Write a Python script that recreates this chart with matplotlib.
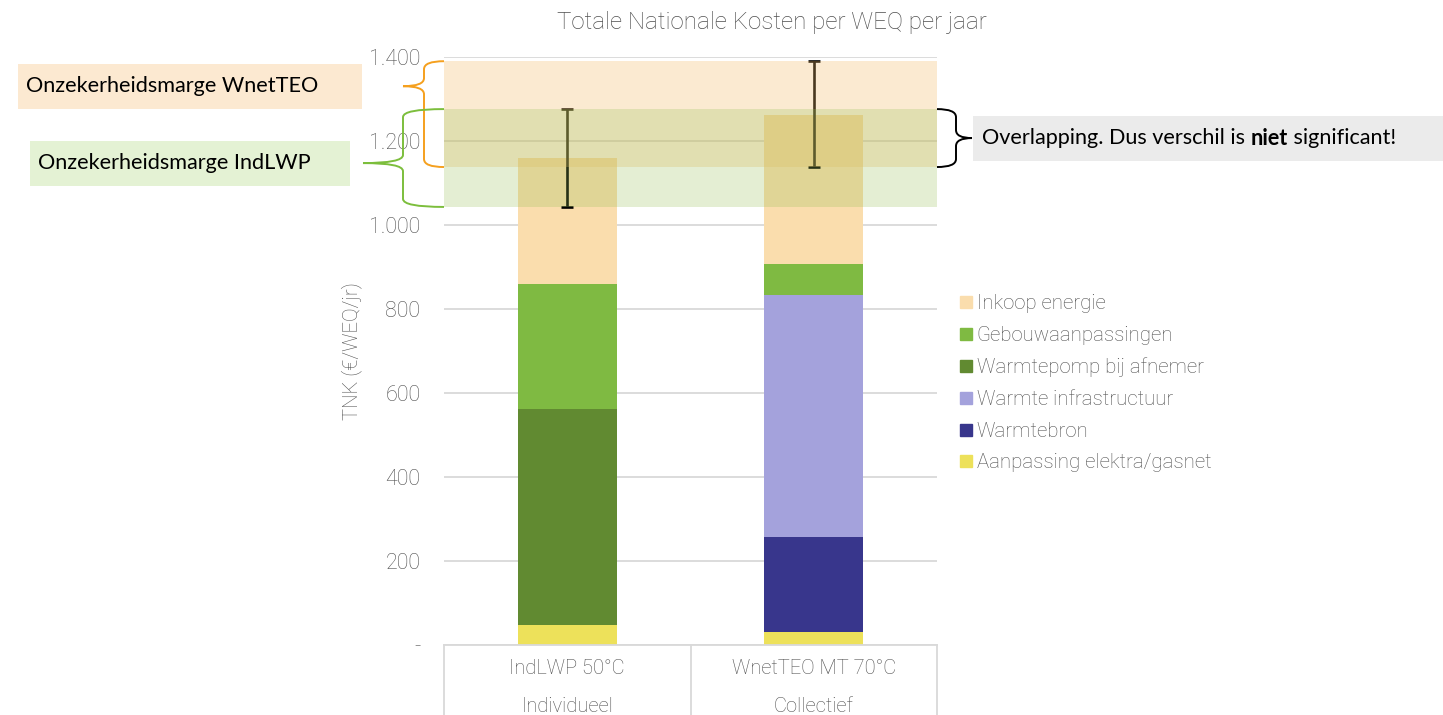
import matplotlib
matplotlib.use('Agg')
import matplotlib.pyplot as plt
from matplotlib.path import Path
from matplotlib.patches import PathPatch, Rectangle
from matplotlib.lines import Line2D
import matplotlib.transforms as mtransforms
import numpy as np

W, H = 1443, 715

categories = ['IndLWP 50°C', 'WnetTEO MT 70°C']
groups = ['Individueel', 'Collectief']

# stacked from bottom to top
series = ['Aanpassing elektra/gasnet', 'Warmtebron', 'Warmte infrastructuur',
          'Warmtepomp bij afnemer', 'Gebouwaanpassingen', 'Inkoop energie']
aanpassing = [47, 32]
warmtebron = [0, 225]
warmte_infra = [0, 576]
warmtepomp = [515, 0]
gebouw = [298, 74]
inkoop = [300, 355]

err_low = [1043, 1138]
err_high = [1276, 1390]

colors = ['#EDE15A', '#38368C', '#A4A2DC', '#618A31', '#7FBA42', '#FADDAD']

grey = '#4f4f4f'
chart_font = 'Roboto'
note_font = 'Lato'

fig = plt.figure(figsize=(W / 100, H / 100), dpi=100)
ax = fig.add_axes([444 / W, (H - 645) / H, (937 - 444) / W, (645 - 57) / H])

x = np.arange(len(categories))
bottom = np.zeros(len(categories))
handles = []
for name, vals, c in zip(series, [aanpassing, warmtebron, warmte_infra, warmtepomp, gebouw, inkoop], colors):
    ax.bar(x, vals, 0.4, bottom=bottom, color=c, zorder=2)
    bottom += np.array(vals)
    handles.append(Line2D([], [], marker='s', color=c, ls='', markersize=9, label=name))

mid = [(lo + hi) / 2 for lo, hi in zip(err_low, err_high)]
yerr = [[m - lo for m, lo in zip(mid, err_low)], [hi - m for m, hi in zip(mid, err_high)]]
ax.errorbar(x, mid, yerr=yerr, fmt='none', ecolor='black', elinewidth=1.9, capsize=4, capthick=1.9, zorder=2.5)

# uncertainty bands (WnetTEO = orange, IndLWP = green), drawn over the bars
ax.axhspan(err_low[1], err_high[1], color='#F5BC69', alpha=0.3, lw=0, zorder=3)
ax.axhspan(err_low[0], err_high[0], color='#97C156', alpha=0.26, lw=0, zorder=4)

ax.set_xlim(-0.5, len(categories) - 0.5)
ax.set_ylim(0, 1400)
ax.set_yticks(np.arange(0, 1401, 200))
ax.set_yticklabels(['-' if v == 0 else f'{v:,}'.replace(',', '.') for v in range(0, 1401, 200)])
ax.yaxis.grid(True, color='#D9D9D9', lw=1.3, zorder=0)
ax.set_axisbelow(True)
ax.tick_params(axis='y', length=0, pad=17, labelsize=15.5, labelcolor=grey)
ax.set_xticks([])
for s in ax.spines.values():
    s.set_visible(False)
for lab in ax.get_yticklabels():
    lab.set_fontfamily(chart_font)
    lab.set_fontweight('light')

ax.set_ylabel('TNK (€/WEQ/jr)', fontsize=14.6, color=grey, family=chart_font, fontweight='light')
ax.yaxis.set_label_coords((362 - 444) / 493, 0.5)

# two-level category axis drawn as a box
trans = mtransforms.blended_transform_factory(ax.transData, ax.transAxes)
box_bottom = -70 / 588
ax.plot([-0.5, len(categories) - 0.5], [0, 0], transform=trans, color='#D9D9D9', lw=1.3, clip_on=False)
for xb in np.arange(-0.5, len(categories), 1):
    ax.plot([xb, xb], [0, box_bottom - 0.05], transform=trans, color='#D9D9D9', lw=1.3, clip_on=False)
for xi, cat, grp in zip(x, categories, groups):
    ax.text(xi, -23 / 588, cat, transform=trans, ha='center', va='center', fontsize=14.5,
            color=grey, family=chart_font, fontweight='light')
    ax.text(xi, -61 / 588, grp, transform=trans, ha='center', va='center', fontsize=14.5,
            color=grey, family=chart_font, fontweight='light')

leg = fig.legend(handles=handles[::-1], loc='upper left', bbox_to_anchor=(936 / W, 1 - 276 / H),
                 frameon=False, handletextpad=0.0, labelspacing=0.62, handlelength=1.1,
                 prop={'family': chart_font, 'weight': 'light', 'size': 14.7})
for t in leg.get_texts():
    t.set_color(grey)

fig.text(772 / W, 1 - 22 / H, 'Totale Nationale Kosten per WEQ per jaar', ha='center', va='center',
         fontsize=17.4, color=grey, family=chart_font, fontweight='light')

# overlay in pixel coordinates (origin top-left) for braces and notes
ov = fig.add_axes([0, 0, 1, 1], facecolor='none')
ov.set_xlim(0, W)
ov.set_ylim(H, 0)
ov.axis('off')


def to_px(yval):
    return H - ax.transData.transform((0, yval))[1]


def brace(xe, xs, xt, yt, ym, yb, color, r=8):
    verts = [(xe, yt), (xs, yt), (xs, yt + r),
             (xs, ym - r), (xs, ym), (xt, ym),
             (xs, ym), (xs, ym + r),
             (xs, yb - r), (xs, yb), (xe, yb)]
    codes = [Path.MOVETO, Path.CURVE3, Path.CURVE3,
             Path.LINETO, Path.CURVE3, Path.CURVE3,
             Path.CURVE3, Path.CURVE3,
             Path.LINETO, Path.CURVE3, Path.CURVE3]
    ov.add_patch(PathPatch(Path(verts, codes), fc='none', ec=color, lw=1.4))


ax_left = ax.get_position().x0 * W
ax_right = ax.get_position().x1 * W
note_size = 15.6

# WnetTEO brace (orange)
yt, yb = to_px(err_high[1]), to_px(err_low[1])
brace(ax_left, ax_left - 20, ax_left - 41, yt, yt + 25, yb, '#F5A01E')
ov.add_patch(Rectangle((18, yt + 25 - 22.5), 344, 45, fc='#FCE9D1', ec='none'))
ov.text(26, yt + 25, 'Onzekerheidsmarge WnetTEO', ha='left', va='center', fontsize=note_size,
        family=note_font, color='black')

# IndLWP brace (green)
yt, yb = to_px(err_high[0]), to_px(err_low[0])
brace(ax_left, ax_left - 41, ax_left - 81, yt, yt + 54, yb, '#7CBE3C')
ov.add_patch(Rectangle((30, yt + 54 - 22.5), 320, 45, fc='#E4F2D4', ec='none'))
ov.text(38, yt + 54, 'Onzekerheidsmarge IndLWP', ha='left', va='center', fontsize=note_size,
        family=note_font, color='black')

# overlap brace (black)
yt, yb = to_px(err_high[0]), to_px(err_low[1])
ym = (yt + yb) / 2
brace(ax_right, ax_right + 19, ax_right + 35, yt, ym, yb, 'black')
ov.add_patch(Rectangle((973, ym - 22.5), W - 973, 45, fc='#EBEBEB', ec='none'))
pieces = [('Overlapping. Dus verschil is ', 'normal'), ('niet', 'bold'), (' significant!', 'normal')]
fig.canvas.draw()
renderer = fig.canvas.get_renderer()
xpos = 982
for txt, wt in pieces:
    t = ov.text(xpos, ym, txt, ha='left', va='center', fontsize=note_size, family=note_font,
                fontweight=wt, color='black')
    bb = t.get_window_extent(renderer=renderer)
    xpos += bb.width

fig.savefig('out.png', dpi=100)
